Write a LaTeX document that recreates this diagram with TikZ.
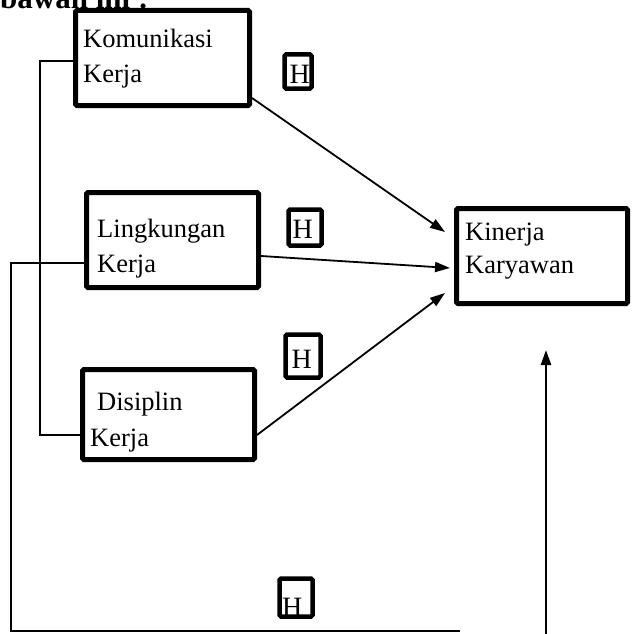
\documentclass[tikz,border=0pt]{standalone}
\usepackage{fontspec}
\setmainfont{Liberation Serif}
\usetikzlibrary{arrows.meta,calc}
\begin{document}
\begin{tikzpicture}[x=1pt,y=-1pt,
  bigbox/.style={draw,line width=5pt,inner sep=0pt,rounded corners=1.5pt},
  hbox/.style={draw,line width=4.5pt,inner sep=0pt,rounded corners=1.5pt},
  lbl/.style={anchor=base west,inner sep=0pt,font=\fontsize{26.5}{30}\selectfont},
  hlbl/.style={anchor=base west,inner sep=0pt,font=\fontsize{28}{30}\selectfont},
  conn/.style={line width=1.8pt},
  arr/.style={line width=1.8pt,-{Triangle[length=15pt,width=10pt]}}]
\useasboundingbox (0,0) rectangle (633,634);
% header (cut at top)
\node[anchor=base west,inner sep=0pt,font=\bfseries\fontsize{31}{32}\selectfont] (hdr) at (0,9) {bawah ini :};
% main boxes
\node[bigbox,minimum width=174pt,minimum height=95pt] (kom) at (162.5,58) {};
\node[bigbox,minimum width=172pt,minimum height=95pt] (lin) at (172.5,240) {};
\node[bigbox,minimum width=172pt,minimum height=90pt] (dis) at (168.5,414.5) {};
\node[bigbox,minimum width=171pt,minimum height=95pt] (kin) at (542,256) {};
% texts
\node[lbl] (t1a) at (83,48) {Komunikasi};
\node[lbl] (t1b) at (83,82) {Kerja};
\node[lbl] (t2a) at (97,237) {Lingkungan};
\node[lbl] (t2b) at (97,272) {Kerja};
\node[lbl] (t3a) at (97,410) {Disiplin};
\node[lbl] (t3b) at (90,446) {Kerja};
\node[lbl] (t4a) at (465,240) {Kinerja};
\node[lbl] (t4b) at (465,273) {Karyawan};
% H boxes
\node[hbox,minimum width=27pt,minimum height=34pt] (h1) at (298,71.5) {};
\node[hbox,minimum width=33pt,minimum height=36pt] (h2) at (305,227.5) {};
\node[hbox,minimum width=35pt,minimum height=43pt] (h3) at (303,356) {};
\node[hbox,minimum width=33pt,minimum height=38pt] (h4) at (296,597.5) {};
\node[hlbl] (h1t) at (289.5,83) {H};
\node[hlbl] (h2t) at (292.5,238) {H};
\node[hlbl] (h3t) at (291.5,368) {H};
\node[hlbl] (h4t) at (282,616) {H};
% left connectors
\draw[conn] ([yshift=-3pt]kom.west) -- ++(-33,0) |- ([yshift=-20.5pt]dis.west);
\coordinate (bend) at (460,631);
\draw[conn] ([yshift=-23pt]lin.west) -- ++(-73,0) |- (bend);
% arrows to Kinerja
\draw[arr] ([yshift=-40pt]kom.east) -- ([xshift=-9pt,yshift=24pt]kin.west);
\draw[arr] ([yshift=-16pt]lin.east) -- ([xshift=-4pt,yshift=-12pt]kin.west);
\draw[arr] ([yshift=-20.5pt]dis.east) -- ([xshift=-9pt,yshift=-37pt]kin.west);
\coordinate (yb) at (546,636);
\draw[line width=2.4pt,-{Triangle[length=15pt,width=10pt]}] (yb) -- ([xshift=4pt,yshift=-44pt]kin.south);
\end{tikzpicture}
\end{document}
